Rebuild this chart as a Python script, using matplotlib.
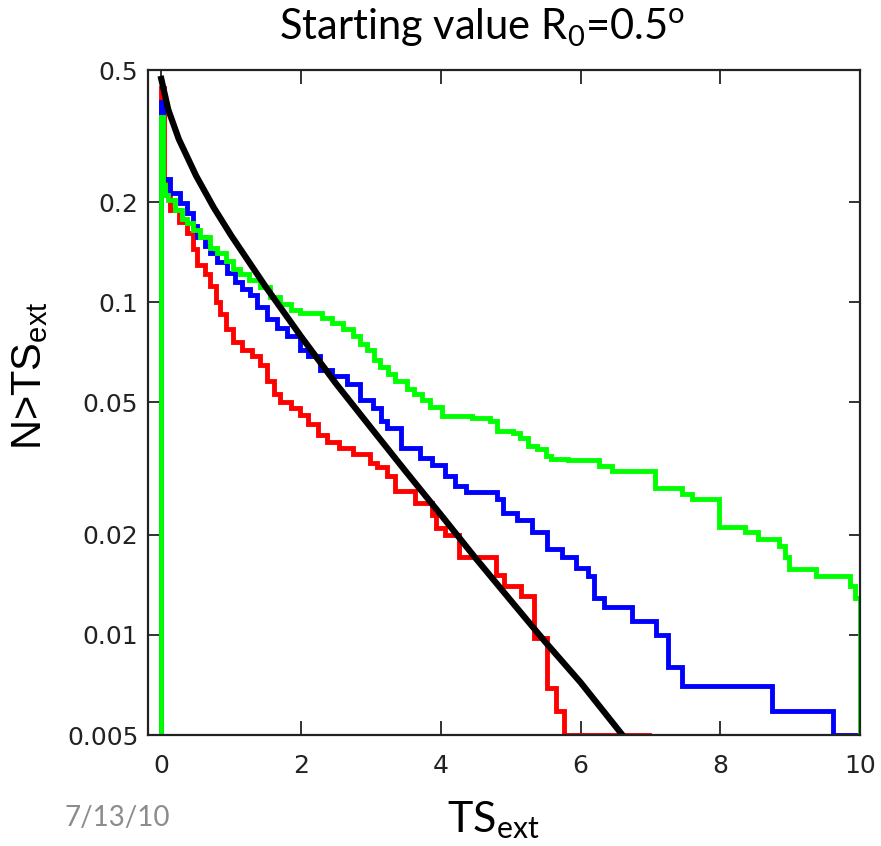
import matplotlib
matplotlib.use("Agg")
import matplotlib.pyplot as plt
from matplotlib.ticker import FixedLocator, FixedFormatter, NullLocator

# ---- data ----
red_x = [0, 0, 0.04, 0.08, 0.13, 0.25, 0.37, 0.45, 0.51, 0.62, 0.70, 0.78, 0.84, 0.92,
         1.03, 1.15, 1.30, 1.42, 1.52, 1.62, 1.70, 1.85, 1.99, 2.10, 2.25, 2.37, 2.55,
         2.75, 2.99, 3.09, 3.23, 3.35, 3.63, 3.88, 3.93, 4.06, 4.26, 4.79, 4.90, 5.15,
         5.34, 5.52, 5.65, 5.77, 6.98]
red_y = [0.001, 0.44, 0.23, 0.21, 0.19, 0.175, 0.162, 0.145, 0.13, 0.122, 0.112, 0.10,
         0.092, 0.083, 0.076, 0.072, 0.069, 0.065, 0.058, 0.053, 0.050, 0.048, 0.046,
         0.043, 0.040, 0.038, 0.0365, 0.035, 0.033, 0.032, 0.030, 0.027, 0.025, 0.023,
         0.021, 0.020, 0.0172, 0.0151, 0.0140, 0.0131, 0.0098, 0.0069, 0.0059, 0.0050,
         0.001]

blue_x = [0, 0, 0.03, 0.13, 0.27, 0.37, 0.45, 0.51, 0.62, 0.70, 0.80, 0.94, 1.05, 1.15,
          1.27, 1.37, 1.52, 1.65, 1.80, 1.99, 2.10, 2.27, 2.45, 2.66, 2.85, 3.03, 3.15,
          3.23, 3.43, 3.70, 3.88, 4.06, 4.20, 4.36, 4.80, 4.89, 5.09, 5.30, 5.52, 5.74,
          5.94, 6.11, 6.20, 6.33, 6.74, 7.08, 7.25, 7.45, 8.74, 9.61, 10.0]
blue_y = [0.001, 0.40, 0.235, 0.214, 0.199, 0.186, 0.170, 0.157, 0.148, 0.141, 0.132,
          0.123, 0.115, 0.110, 0.105, 0.097, 0.089, 0.084, 0.079, 0.072, 0.069, 0.0627,
          0.060, 0.057, 0.051, 0.048, 0.044, 0.042, 0.0365, 0.034, 0.0325, 0.030, 0.028,
          0.0269, 0.0257, 0.0233, 0.0222, 0.0204, 0.0181, 0.0171, 0.0159, 0.0150, 0.0129,
          0.0121, 0.0110, 0.0100, 0.0080, 0.0070, 0.0059, 0.0050, 0.001]

green_x = [0, 0, 0.03, 0.06, 0.09, 0.20, 0.30, 0.37, 0.45, 0.56, 0.70, 0.80, 0.92, 1.03,
           1.13, 1.25, 1.42, 1.55, 1.70, 1.85, 1.99, 2.30, 2.45, 2.60, 2.75, 2.85, 2.95,
           3.05, 3.13, 3.25, 3.35, 3.52, 3.62, 3.73, 3.85, 4.02, 4.45, 4.70, 4.80, 5.04,
           5.14, 5.25, 5.38, 5.50, 5.58, 5.82, 6.26, 6.45, 7.06, 7.45, 7.59, 7.98, 8.35,
           8.54, 8.84, 8.93, 8.98, 9.37, 9.86, 9.93, 10.0]
green_y = [0.001, 0.36, 0.225, 0.21, 0.203, 0.19, 0.178, 0.173, 0.165, 0.157, 0.146,
           0.141, 0.133, 0.126, 0.122, 0.117, 0.111, 0.104, 0.099, 0.095, 0.093, 0.090,
           0.087, 0.083, 0.079, 0.075, 0.072, 0.067, 0.064, 0.061, 0.058, 0.055, 0.053,
           0.0510, 0.0485, 0.0455, 0.0450, 0.0439, 0.0411, 0.0405, 0.0390, 0.0371, 0.0362,
           0.0345, 0.0338, 0.0335, 0.0323, 0.0312, 0.0276, 0.0266, 0.0257, 0.0211, 0.0204,
           0.0194, 0.0185, 0.0171, 0.0158, 0.0150, 0.0140, 0.0129, 0.001]

black_x = [0, 0.1, 0.25, 0.5, 0.75, 1.0, 1.5, 2.0, 2.5, 3.0, 3.5, 4.0, 4.5, 5.0, 5.5,
           6.0, 6.6]
black_y = [0.47, 0.38, 0.31, 0.24, 0.193, 0.159, 0.111, 0.079, 0.057, 0.042, 0.031,
           0.023, 0.017, 0.0127, 0.0095, 0.0072, 0.005]

x_ticks = [0, 2, 4, 6, 8, 10]
y_ticks = [0.005, 0.01, 0.02, 0.05, 0.1, 0.2, 0.5]
y_tick_labels = ["0.005", "0.01", "0.02", "0.05", "0.1", "0.2", "0.5"]

title_text = r"Starting value R$_\mathregular{0}$=0.5$^\mathregular{o}$"
ylabel_text = r"N>TS$_\mathregular{ext}$"
xlabel_text = r"TS$_\mathregular{ext}$"
date_text = "7/13/10"

# ---- figure ----
plt.rcParams["font.family"] = ["DejaVu Sans"]
W, H = 881, 846
fig = plt.figure(figsize=(W / 100, H / 100), dpi=100)
ax = fig.add_axes([148 / W, 1 - 735 / H, (860 - 148) / W, (735 - 70) / H])

lw = 3.5
ax.plot(red_x, red_y, color="#ff0000", lw=lw, drawstyle="steps-post", solid_joinstyle="miter")
ax.plot(blue_x, blue_y, color="#0000ff", lw=lw, drawstyle="steps-post", solid_joinstyle="miter")
ax.plot(green_x, green_y, color="#00ff00", lw=lw, drawstyle="steps-post", solid_joinstyle="miter")
ax.plot(black_x, black_y, color="black", lw=4.5)

ax.set_yscale("log")
ax.set_xlim(-0.19, 10.0)
ax.set_ylim(0.005, 0.5)

ax.xaxis.set_major_locator(FixedLocator(x_ticks))
ax.yaxis.set_major_locator(FixedLocator(y_ticks))
ax.yaxis.set_major_formatter(FixedFormatter(y_tick_labels))
ax.yaxis.set_minor_locator(NullLocator())
ax.xaxis.set_minor_locator(NullLocator())

ax.tick_params(axis="x", direction="in", length=10, width=1.3, top=True, bottom=True,
               labelsize=18, pad=14, colors="#222222")
ax.tick_params(axis="y", direction="in", length=8, width=1.3, left=True, right=True,
               labelsize=18, pad=7, colors="#222222")
for sp in ax.spines.values():
    sp.set_linewidth(1.6)
    sp.set_color("#222222")

fig.text(482 / W, 1 - 40 / H, title_text, fontfamily="Lato", fontsize=30,
         ha="center", va="baseline", color="black")
fig.text(30 / W, 1 - 376 / H, ylabel_text, fontfamily="Liberation Sans", fontsize=30,
         rotation=90, ha="center", va="center", color="black")
fig.text(447 / W, 1 - 832 / H, xlabel_text, fontfamily="Lato", fontsize=31,
         ha="left", va="baseline", color="black")
fig.text(65 / W, 1 - 826 / H, date_text, fontfamily="Lato", fontsize=20,
         ha="left", va="baseline", color="#8c8c8c")

fig.savefig("out.png", dpi=100)
